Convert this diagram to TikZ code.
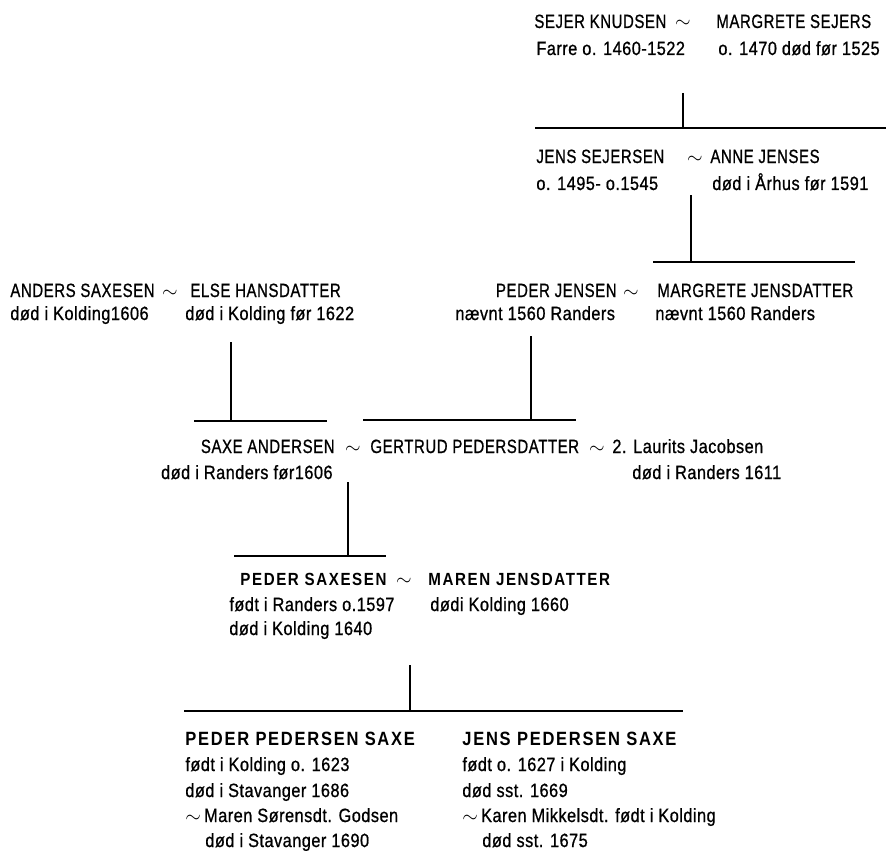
\documentclass[tikz,border=0pt]{standalone}
\usepackage{fontspec}
\setmainfont{Liberation Sans}
\newfontfamily\capsfont{Liberation Sans}[FakeStretch=0.78,LetterSpace=3,FakeBold=0.8]
\newfontfamily\datefont{Liberation Sans}[FakeStretch=0.85,LetterSpace=2.5,FakeBold=0.8]
\newfontfamily\heirfont{Liberation Sans}[FakeStretch=0.86,LetterSpace=9]
\newcommand\tsz{\fontsize{9.6}{11}\selectfont}
\newcommand\ssz{\fontsize{8.8}{10}\selectfont}

\begin{document}
\begin{tikzpicture}[x=0.5pt,y=-0.5pt,
		famline/.style={line width=1pt},
		caps/.style={anchor=base west,inner sep=0pt,font=\capsfont\tsz},
		dates/.style={anchor=base west,inner sep=0pt,font=\datefont\tsz},
		heir/.style={anchor=base west,inner sep=0pt,font=\heirfont\bfseries\tsz},
		parent/.style={heir,font=\heirfont\bfseries\ssz},
		tilde/.style={anchor=base,inner sep=0pt,font=\tsz}]
		%%%%% START %%%%%
		\useasboundingbox (0,0) rectangle (886,850);
		
		% Sejer Knudsen ~ Margrete Sejers
		\node[caps] (sejer) at (534,28) {SEJER KNUDSEN};
		\node[tilde] (t1) at (683,28) {$\sim$};
		\node[caps] (margs) at (716,28) {MARGRETE SEJERS};
		\node[dates] (sejerd) at (536,55) {Farre o. 1460-1522};
		\node[dates] (margsd) at (718,55) {o. 1470 død før 1525};
		
		\coordinate (g1) at (683,93);
		\coordinate (bar1w) at (535,128);
		\coordinate (bar1e) at (886,128);
		\draw[famline] (bar1w) -- (bar1e);
		\draw[famline] (g1) -- (g1 |- bar1w);
		
		% Jens Sejersen ~ Anne Jenses
		\node[caps] (jens) at (536,163) {JENS SEJERSEN};
		\node[tilde] (t2) at (695,163) {$\sim$};
		\node[caps] (anne) at (710,163) {ANNE JENSES};
		\node[dates] (jensd) at (536,190) {o. 1495- o.1545};
		\node[dates] (anned) at (712,190) {død i Århus før 1591};
		
		\coordinate (g2) at (691,195);
		\coordinate (bar2w) at (653,262);
		\coordinate (bar2e) at (855,262);
		\draw[famline] (bar2w) -- (bar2e);
		\draw[famline] (g2) -- (g2 |- bar2w);
		
		% Anders Saxesen ~ Else Hansdatter
		\node[caps] (anders) at (10,297) {ANDERS SAXESEN};
		\node[tilde] (t3) at (170,297) {$\sim$};
		\node[caps] (else) at (190,297) {ELSE HANSDATTER};
		\node[dates] (andersd) at (10,320) {død i Kolding1606};
		\node[dates] (elsed) at (185,320) {død i Kolding før 1622};
		
		% Peder Jensen ~ Margrete Jensdatter
		\node[caps,anchor=base east] (pederj) at (617,297) {PEDER JENSEN};
		\node[tilde] (t4) at (631,297) {$\sim$};
		\node[caps] (margj) at (657,297) {MARGRETE JENSDATTER};
		\node[dates] (pederjd) at (455,320) {nævnt 1560 Randers};
		\node[dates] (margjd) at (655,320) {nævnt 1560 Randers};
		
		\coordinate (g3a) at (231,342);
		\coordinate (bar3aw) at (194,421);
		\coordinate (bar3ae) at (327,421);
		\draw[famline] (bar3aw) -- (bar3ae);
		\draw[famline] (g3a) -- (g3a |- bar3aw);
		
		\coordinate (g3b) at (531,336);
		\coordinate (bar3bw) at (363,420);
		\coordinate (bar3be) at (576,420);
		\draw[famline] (bar3bw) -- (bar3be);
		\draw[famline] (g3b) -- (g3b |- bar3bw);
		
		% Saxe Andersen ~ Gertrud Pedersdatter ~ Laurits Jacobsen
		\node[caps,anchor=base east] (saxe) at (335,453) {SAXE ANDERSEN};
		\node[tilde] (t5) at (353,453) {$\sim$};
		\node[caps] (gertrud) at (370,453) {GERTRUD PEDERSDATTER};
		\node[tilde] (t6) at (597,453) {$\sim$};
		\node[dates] (laurits) at (612,453) {2. Laurits Jacobsen};
		\node[dates,anchor=base east] (saxed) at (333,479) {død i Randers før1606};
		\node[dates] (lauritsd) at (632,479) {død i Randers 1611};
		
		\coordinate (g4) at (348,482);
		\coordinate (bar4w) at (234,556);
		\coordinate (bar4e) at (386,556);
		\draw[famline] (bar4w) -- (bar4e);
		\draw[famline] (g4) -- (g4 |- bar4w);
		
		% Peder Saxesen ~ Maren Jensdatter
		\node[parent] (peders) at (240,585) {PEDER SAXESEN};
		\node[tilde] (t7) at (404,585) {$\sim$};
		\node[parent] (maren) at (428,585) {MAREN JENSDATTER};
		\node[dates] (pedersb) at (229,611) {født i Randers o.1597};
		\node[dates] (pedersd) at (229,635) {død i Kolding 1640};
		\node[dates] (marend) at (430,611) {dødi Kolding 1660};
		
		\coordinate (g5) at (410,665);
		\coordinate (bar5w) at (184,711);
		\coordinate (bar5e) at (683,711);
		\draw[famline] (bar5w) -- (bar5e);
		\draw[famline] (g5) -- (g5 |- bar5w);
		
		% children
		\node[heir] (ppsaxe) at (185,745) {PEDER PEDERSEN SAXE};
		\node[dates] (ppb) at (185,771) {født i Kolding o. 1623};
		\node[dates] (ppd) at (185,797) {død i Stavanger 1686};
		\node[dates] (ppw) at (185,822) {$\sim$\,Maren Sørensdt. Godsen};
		\node[dates] (ppwd) at (205,847) {død i Stavanger 1690};
		
		\node[heir] (jpsaxe) at (462,745) {JENS PEDERSEN SAXE};
		\node[dates] (jpb) at (462,771) {født o. 1627 i Kolding};
		\node[dates] (jpd) at (462,797) {død sst. 1669};
		\node[dates] (jpw) at (462,822) {$\sim$\,Karen Mikkelsdt. født i Kolding};
		\node[dates] (jpwd) at (482,847) {død sst. 1675};
		%%%%% END %%%%%
	\end{tikzpicture}
\end{document}
